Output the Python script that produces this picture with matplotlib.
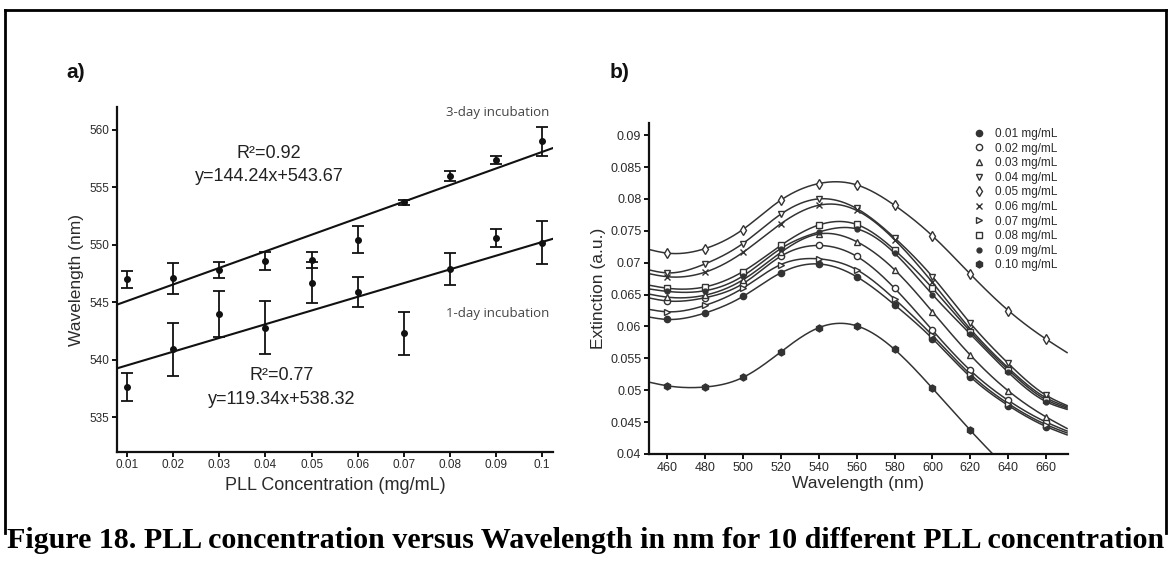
import matplotlib

matplotlib.use("Agg")
import matplotlib.pyplot as plt
import numpy as np
from matplotlib.lines import Line2D

# ---- panel a: peak wavelength vs PLL concentration ----
conc = [0.01, 0.02, 0.03, 0.04, 0.05, 0.06, 0.07, 0.08, 0.09, 0.1]
conc_labels = ["0.01", "0.02", "0.03", "0.04", "0.05", "0.06", "0.07", "0.08", "0.09", "0.1"]
day3 = [547.0, 547.1, 547.8, 548.6, 548.7, 550.45, 553.7, 556.0, 557.4, 559.0]
day3_err = [0.75, 1.35, 0.7, 0.75, 0.7, 1.15, 0.2, 0.45, 0.35, 1.25]
day1 = [537.65, 540.9, 544.0, 542.8, 546.7, 545.9, 542.3, 547.9, 550.6, 550.2]
day1_err = [1.2, 2.3, 2.0, 2.3, 1.8, 1.3, 1.9, 1.4, 0.8, 1.9]
fit3 = (144.24, 543.67)
fit1 = (119.34, 538.32)
r2_3 = 0.92
r2_1 = 0.77

# ---- panel b: extinction spectra ----
wl = [450, 460, 480, 500, 520, 540, 560, 580, 600, 620, 640, 660, 671]
ext_001 = [0.0615, 0.0611, 0.0621, 0.0647, 0.0684, 0.0698, 0.0678, 0.0634, 0.0581, 0.0521, 0.0476, 0.0443, 0.0430]
ext_002 = [0.0645, 0.0640, 0.0645, 0.0667, 0.0710, 0.0727, 0.0710, 0.0660, 0.0594, 0.0531, 0.0484, 0.0450, 0.0436]
ext_003 = [0.0651, 0.0646, 0.0649, 0.0673, 0.0716, 0.0745, 0.0733, 0.0689, 0.0623, 0.0555, 0.0499, 0.0458, 0.0440]
ext_004 = [0.0689, 0.0684, 0.0698, 0.0730, 0.0776, 0.0800, 0.0785, 0.0739, 0.0678, 0.0605, 0.0542, 0.0492, 0.0476]
ext_005 = [0.0721, 0.0715, 0.0722, 0.0752, 0.0798, 0.0824, 0.0822, 0.0790, 0.0742, 0.0682, 0.0625, 0.0580, 0.0559]
ext_006 = [0.0683, 0.0678, 0.0685, 0.0716, 0.0761, 0.0790, 0.0782, 0.0736, 0.0669, 0.0596, 0.0535, 0.0488, 0.0474]
ext_007 = [0.0627, 0.0623, 0.0633, 0.0660, 0.0697, 0.0706, 0.0689, 0.0643, 0.0586, 0.0525, 0.0479, 0.0446, 0.0433]
ext_008 = [0.0665, 0.0660, 0.0662, 0.0686, 0.0727, 0.0759, 0.0760, 0.0720, 0.0660, 0.0592, 0.0532, 0.0485, 0.0472]
ext_009 = [0.0659, 0.0655, 0.0656, 0.0679, 0.0722, 0.0748, 0.0753, 0.0715, 0.0650, 0.0588, 0.0528, 0.0482, 0.0470]
ext_010 = [0.0513, 0.0507, 0.0505, 0.0520, 0.0560, 0.0598, 0.0601, 0.0564, 0.0503, 0.0437, 0.0375, np.nan, np.nan]
series_labels = ["0.01 mg/mL", "0.02 mg/mL", "0.03 mg/mL", "0.04 mg/mL", "0.05 mg/mL",
                 "0.06 mg/mL", "0.07 mg/mL", "0.08 mg/mL", "0.09 mg/mL", "0.10 mg/mL"]
series = [ext_001, ext_002, ext_003, ext_004, ext_005, ext_006, ext_007, ext_008, ext_009, ext_010]
b_yticks = [0.04, 0.045, 0.05, 0.055, 0.06, 0.065, 0.07, 0.075, 0.08, 0.085, 0.09]
b_yticklabels = ["0.04", "0.045", "0.05", "0.055", "0.06", "0.065", "0.07", "0.075", "0.08", "0.085", "0.09"]
b_xticks = [460, 480, 500, 520, 540, 560, 580, 600, 620, 640, 660]

caption = "Figure 18. PLL concentration versus Wavelength in nm for 10 different PLL concentration"

# marker style per series: (marker, filled, size)
styles = [("o", True, 4.5), ("o", False, 4.5), ("^", False, 4.5), ("v", False, 4.5), ("d", False, 5),
          ("x", False, 4.5), (">", False, 4.5), ("s", False, 4), ("o", True, 3.5), ("h", True, 5)]

INK = "#2b2b2b"
SANS = ["Liberation Sans", "DejaVu Sans"]


def spline(x, y, xs):
    # natural cubic spline, only used to draw smooth lines through the read values
    x = np.asarray(x, float)
    y = np.asarray(y, float)
    n = len(x)
    h = np.diff(x)
    A = np.zeros((n, n))
    r = np.zeros(n)
    A[0, 0] = A[-1, -1] = 1.0
    for i in range(1, n - 1):
        A[i, i - 1] = h[i - 1]
        A[i, i] = 2 * (h[i - 1] + h[i])
        A[i, i + 1] = h[i]
        r[i] = 3 * ((y[i + 1] - y[i]) / h[i] - (y[i] - y[i - 1]) / h[i - 1])
    c = np.linalg.solve(A, r)
    b = (y[1:] - y[:-1]) / h - h * (2 * c[:-1] + c[1:]) / 3
    d = (c[1:] - c[:-1]) / (3 * h)
    idx = np.clip(np.searchsorted(x, xs) - 1, 0, n - 2)
    dx = xs - x[idx]
    return y[idx] + b[idx] * dx + c[idx] * dx ** 2 + d[idx] * dx ** 3


def style_axes(ax, size):
    for s in ("top", "right"):
        ax.spines[s].set_visible(False)
    for s in ("left", "bottom"):
        ax.spines[s].set_linewidth(1.6)
        ax.spines[s].set_color("#111111")
    ax.tick_params(direction="out", length=3.5, width=1.4, colors="#111111",
                   labelcolor=INK, labelsize=size, pad=2)
    for lab in ax.get_xticklabels() + ax.get_yticklabels():
        lab.set_family(SANS)


fig = plt.figure(figsize=(11.72, 5.63), dpi=100)
W, H = 1172, 563


def box(l, t, r, b):
    return [l / W, 1 - b / H, (r - l) / W, (b - t) / H]


# ---------------- panel a ----------------
ax = fig.add_axes(box(116.7, 107, 553.3, 451.7))
ax.set_xlim(0.00776, 0.1024)
ax.set_ylim(532.0, 562.0)
xs = np.array(ax.get_xlim())
ax.plot(xs, fit3[0] * xs + fit3[1], color="#111111", lw=1.5, zorder=2)
ax.plot(xs, fit1[0] * xs + fit1[1], color="#111111", lw=1.5, zorder=2)
for yv, ev in ((day3, day3_err), (day1, day1_err)):
    ax.errorbar(conc, yv, yerr=ev, fmt="o", ms=4, color="#111111", ecolor="#111111",
                elinewidth=1.3, capsize=4, capthick=1.3, zorder=3)
ax.set_xticks(conc)
ax.set_xticklabels(conc_labels)
ax.set_yticks([535, 540, 545, 550, 555, 560])
style_axes(ax, 8.5)
ax.set_xlabel("PLL Concentration (mg/mL)", fontsize=13, family=SANS, color=INK, va="center")
ax.xaxis.set_label_coords(0.5, -0.097)
ax.set_ylabel("Wavelength (nm)", fontsize=12.5, family=SANS, color=INK, va="center")
ax.yaxis.set_label_coords(-0.093, 0.498)

ax.text(0.991, 0.983, "3-day incubation", transform=ax.transAxes, ha="right", va="center",
        fontsize=9.5, family=["Open Sans", "DejaVu Sans"], color="#444444")
ax.text(0.991, 0.402, "1-day incubation", transform=ax.transAxes, ha="right", va="center",
        fontsize=9.5, family=["Open Sans", "DejaVu Sans"], color="#444444")
ax.text(0.349, 0.866, f"R\u00b2={r2_3:.2f}", transform=ax.transAxes, ha="center", va="center",
        fontsize=13, family=SANS, color="#222222")
ax.text(0.349, 0.797, f"y={fit3[0]:.2f}x+{fit3[1]:.2f}", transform=ax.transAxes, ha="center",
        va="center", fontsize=13, family=SANS, color="#222222")
ax.text(0.377, 0.220, f"R\u00b2={r2_1:.2f}", transform=ax.transAxes, ha="center", va="center",
        fontsize=13, family=SANS, color="#222222")
ax.text(0.377, 0.150, f"y={fit1[0]:.2f}x+{fit1[1]:.2f}", transform=ax.transAxes, ha="center",
        va="center", fontsize=13, family=SANS, color="#222222")

# ---------------- panel b ----------------
bx = fig.add_axes(box(649, 123, 1068, 454))
bx.set_xlim(450.5, 671.5)
bx.set_ylim(0.04, 0.0919)
wl_arr = np.array(wl, float)
handles = []
for vals, lab, (mk, filled, ms) in zip(series, series_labels, styles):
    v = np.array(vals, float)
    ok = ~np.isnan(v)
    xx = np.linspace(wl_arr[ok][0], wl_arr[ok][-1], 400)
    bx.plot(xx, spline(wl_arr[ok], v[ok], xx), color="#333333", lw=1.1, zorder=2)
    mask = ok & (wl_arr >= 460) & (wl_arr <= 660)
    kw = dict(marker=mk, ms=ms, mec="#333333", mew=1.0, ls="none",
              mfc="#333333" if filled else "white")
    bx.plot(wl_arr[mask], v[mask], zorder=3, **kw)
    handles.append(Line2D([], [], label=lab, **kw))
bx.set_xticks(b_xticks)
bx.set_yticks(b_yticks)
bx.set_yticklabels(b_yticklabels)
style_axes(bx, 9)
bx.set_xlabel("Wavelength (nm)", fontsize=12.5, family=SANS, color=INK, va="center")
bx.xaxis.set_label_coords(0.5, -0.088)
bx.set_ylabel("Extinction (a.u.)", fontsize=12.5, family=SANS, color=INK, va="center")
bx.yaxis.set_label_coords(-0.12, 0.5)
bx.legend(handles=handles, loc="upper left", bbox_to_anchor=(0.773, 0.985), frameon=False,
          borderpad=0, borderaxespad=0, handlelength=1.0, handletextpad=0.9, labelspacing=0.22,
          prop={"family": SANS, "size": 8.5}, labelcolor=INK)

# panel letters
fig.text(75.5 / W, 1 - 72 / H, "a)", fontsize=15, fontweight="bold", family=SANS,
         ha="center", va="center", color="#111111")
fig.text(620 / W, 1 - 72 / H, "b)", fontsize=15, fontweight="bold", family=SANS,
         ha="center", va="center", color="#111111")

# page frame
for (x0, y0, x1, y1) in ((5, 10, 1166, 10), (5, 10, 5, 533), (1166, 10, 1166, 533)):
    fig.add_artist(Line2D([x0 / W, x1 / W], [1 - y0 / H, 1 - y1 / H], transform=fig.transFigure,
                          color="black", lw=2.0))

# caption, sized to span the page width
cap = fig.text(586 / W, 1 - 541 / H, caption, fontsize=16, fontweight="bold",
               family=["Liberation Serif", "DejaVu Serif"], ha="center", va="center", color="black")
renderer = fig.canvas.get_renderer()
wpx = cap.get_window_extent(renderer).width
cap.set_fontsize(16 * 1160 / wpx)

fig.savefig("out.png", dpi=100)
plt.close(fig)
